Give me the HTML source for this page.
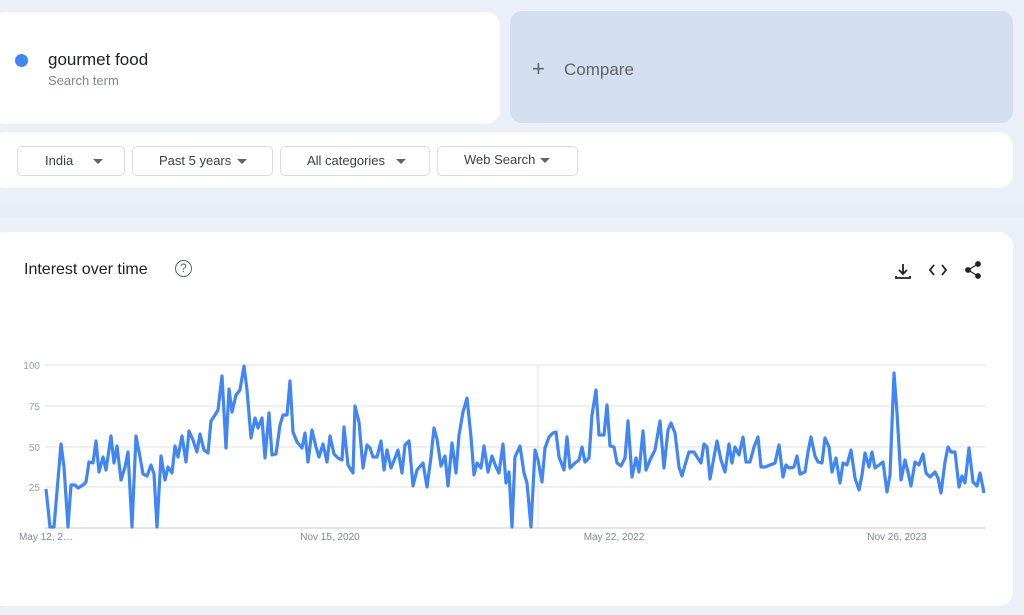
<!DOCTYPE html>
<html><head><meta charset="utf-8"><style>
body{margin:0;width:1024px;height:615px;background:#eaeff8;font-family:"Liberation Sans",sans-serif;position:relative;overflow:hidden}
.card{position:absolute;background:#fff;border-radius:14px}
.btn{position:absolute;top:146px;height:28px;border:1px solid #dadce0;border-radius:5px;background:#fff;font-size:13px;color:#3c4043;line-height:28px}
.tri{position:absolute;top:12px;width:0;height:0;border-left:5px solid transparent;border-right:5px solid transparent;border-top:5px solid #5f6368}
</style></head><body>
<div style="position:absolute;left:0;top:205px;width:1024px;height:12px;background:#e8edf6"></div>
<div class="card" style="left:-10px;top:12px;width:510px;height:112px"></div>
<div style="position:absolute;left:15px;top:54px;width:13px;height:13px;border-radius:50%;background:#4285f4"></div>
<div style="position:absolute;left:48px;top:50px;font-size:17px;color:#202124">gourmet food</div>
<div style="position:absolute;left:48px;top:73px;font-size:13px;color:#80868b">Search term</div>
<div style="position:absolute;left:510px;top:11px;width:503px;height:112px;border-radius:12px;background:#d3dff1"></div>
<div style="position:absolute;left:532px;top:56px;font-size:22px;color:#5f6368">+</div>
<div style="position:absolute;left:564px;top:60px;font-size:17px;color:#5f6368">Compare</div>
<div class="card" style="left:-10px;top:132px;width:1023px;height:56px"></div>
<div class="btn" style="left:17px;width:106px"><span style="position:absolute;left:27px">India</span><div class="tri" style="left:75px"></div></div>
<div class="btn" style="left:132px;width:139px"><span style="position:absolute;left:26px">Past 5 years</span><div class="tri" style="left:104px"></div></div>
<div class="btn" style="left:280px;width:148px"><span style="position:absolute;left:26px">All categories</span><div class="tri" style="left:115px"></div></div>
<div class="btn" style="left:437px;width:139px"><span style="position:absolute;left:26px;top:-1px">Web Search</span><div class="tri" style="left:102px;top:11px"></div></div>
<div class="card" style="left:-10px;top:232px;width:1023px;height:374px"></div>
<div style="position:absolute;left:24px;top:261px;font-size:16px;color:#202124">Interest over time</div>
<div style="position:absolute;left:175px;top:260px;width:15px;height:15px;border:1.5px solid #5f6368;border-radius:50%;font-size:12px;line-height:15px;text-align:center;color:#5f6368">?</div>
<svg style="position:absolute;left:0;top:0" width="1024" height="615">
<g stroke="#202124" stroke-width="1.8" fill="none">
<path d="M903 264v10M899 270l4 4 4-4M896 276v2h14v-2"/>
<path d="M934 265l-4 5 4 5M942 265l4 5-4 5"/>
<circle cx="978" cy="264" r="2" fill="#202124"/><circle cx="968" cy="270" r="2" fill="#202124"/><circle cx="978" cy="276" r="2" fill="#202124"/>
<path d="M978 264l-10 6 10 6" stroke-width="1.2"/>
</g>
<g stroke="#e0e0e0" stroke-width="1">
<line x1="45" y1="365" x2="985" y2="365"/><line x1="45" y1="406" x2="985" y2="406"/><line x1="45" y1="447" x2="985" y2="447"/><line x1="45" y1="487" x2="985" y2="487"/>
<line x1="538" y1="365" x2="538" y2="528"/>
</g>
<line x1="45" y1="528" x2="985" y2="528" stroke="#c8c8c8"/>
<g font-size="10" fill="#9aa0a6" text-anchor="end" font-family="Liberation Sans">
<text x="40" y="369">100</text><text x="40" y="410">75</text><text x="40" y="451">50</text><text x="40" y="491">25</text>
</g>
<g font-size="10" fill="#80868b" text-anchor="middle" font-family="Liberation Sans">
<text x="46" y="540">May 12, 2…</text><text x="330" y="540">Nov 15, 2020</text><text x="614" y="540">May 22, 2022</text><text x="897" y="540">Nov 26, 2023</text>
</g>
<polyline fill="none" stroke="#4285f4" stroke-width="3.2" stroke-linejoin="round" points="46,489 50,527 54,527 61,444 64,467 68,527 71,485 75,485 78,488 83,485 86,482 89,462 93,463 96,441 99,472 103,457 106,470 111,436 114,463 117,446 121,480 125,467 128,452 132,527 136,436 140,457 143,474 147,476 151,465 154,474 157,527 161,456 165,480 168,467 172,473 175,446 178,457 182,436 186,462 189,431 193,440 197,452 200,434 204,450 208,453 211,421 215,415 218,410 222,376 226,448 229,389 232,412 236,395 240,390 244,366 247,390 251,438 255,418 258,428 262,418 265,458 269,413 272,455 276,454 280,425 283,415 287,415 290,381 293,432 297,442 302,448 305,433 308,462 312,430 316,447 319,457 323,444 327,462 330,436 334,454 338,458 342,460 344,427 348,465 353,473 355,406 359,422 363,468 367,445 370,448 373,457 377,457 381,441 384,470 387,450 391,468 395,458 398,450 402,473 405,445 409,441 413,486 417,470 423,463 427,487 431,457 434,428 437,439 441,466 445,456 448,486 452,443 456,473 459,435 463,412 467,398 471,437 474,475 477,463 481,468 484,446 488,472 492,456 496,467 499,473 503,444 506,483 509,472 512,527 515,457 520,446 524,473 527,483 531,527 535,450 538,460 542,482 545,448 549,437 553,433 556,432 559,457 564,470 567,437 570,468 575,463 579,460 582,447 585,462 589,458 592,415 596,390 599,435 604,435 607,405 610,446 614,447 617,463 621,466 625,458 628,421 632,477 636,458 639,472 643,431 646,470 650,460 655,450 660,421 664,468 668,430 671,423 675,433 679,467 682,476 685,465 689,452 694,452 697,457 701,463 704,444 707,447 710,479 714,457 717,441 721,460 725,472 729,444 732,463 735,447 739,455 743,437 746,462 750,462 754,447 758,437 761,467 765,467 770,465 775,463 779,445 783,477 786,465 789,468 794,467 797,456 800,474 805,472 808,452 811,437 815,456 818,462 822,463 825,438 829,447 832,472 836,458 840,483 843,463 847,465 851,450 855,478 859,490 862,475 865,453 869,467 872,452 875,468 879,465 883,462 887,492 890,475 894,373 897,413 901,480 905,460 908,472 911,486 915,462 919,465 923,454 926,473 930,477 935,472 938,478 941,493 945,462 948,447 951,452 955,452 959,487 962,476 965,483 969,448 973,482 977,486 980,473 984,493"/>
</svg>
</body></html>
